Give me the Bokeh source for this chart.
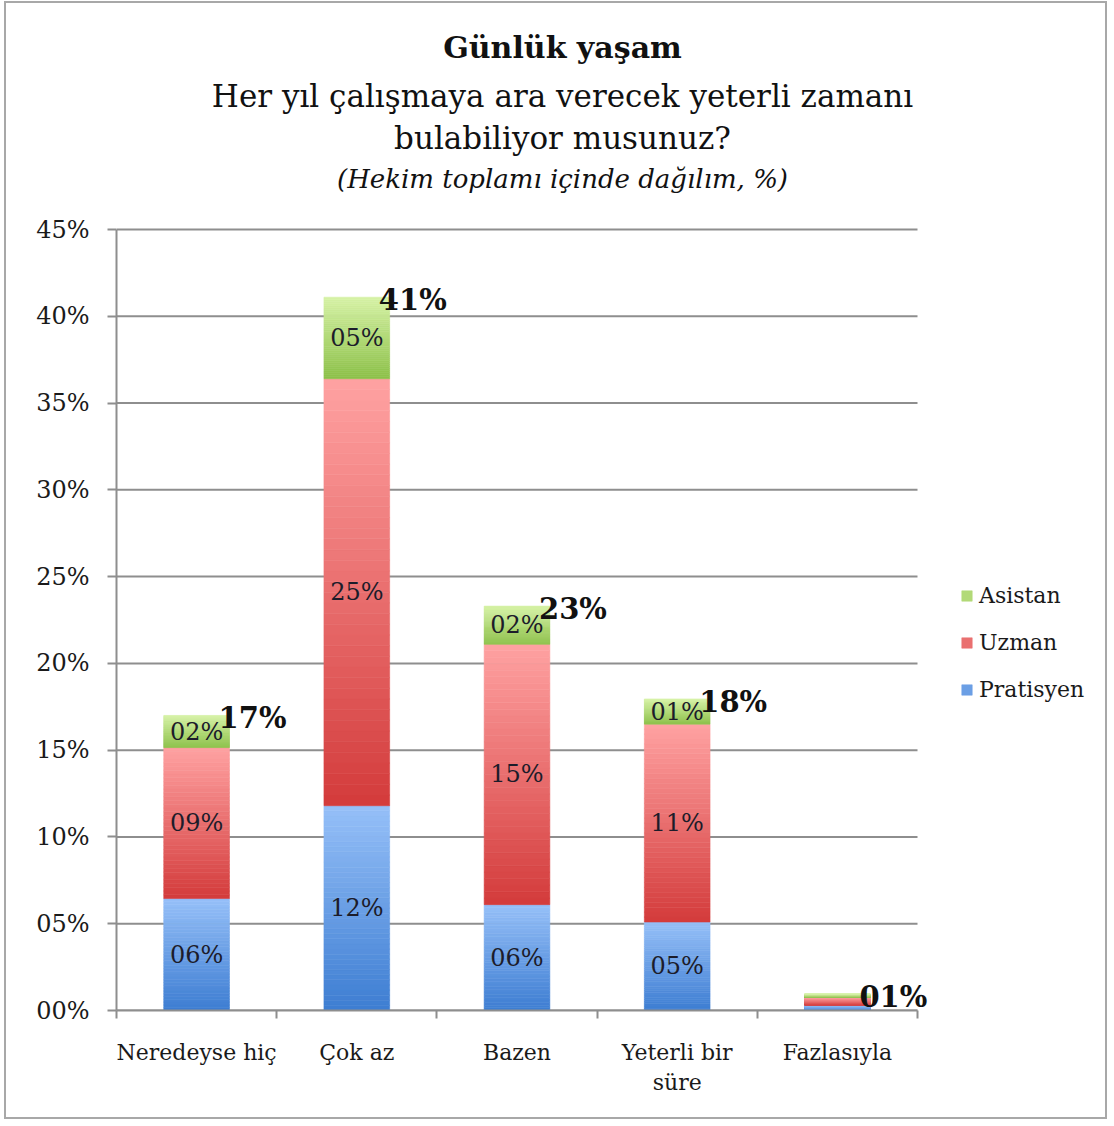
from bokeh.plotting import figure
from bokeh.models import (ColumnDataSource, Range1d, FixedTicker, Legend, LegendItem)
from bokeh.core.properties import value
from bokeh.embed import file_html
from bokeh.resources import INLINE

# ---------------- data ----------------
categories = ["Neredeyse hiç", "Çok az", "Bazen", "Yeterli bir\nsüre", "Fazlasıyla"]
series_names = ["Pratisyen", "Uzman", "Asistan"]
pratisyen = [6.45, 11.8, 6.1, 5.1, 0.3]
uzman = [8.7, 24.6, 15.0, 11.4, 0.45]
asistan = [1.85, 4.7, 2.2, 1.45, 0.2]
y_ticks = [0, 5, 10, 15, 20, 25, 30, 35, 40, 45]
y_tick_labels = ["00%", "05%", "10%", "15%", "20%", "25%", "30%", "35%", "40%", "45%"]
title_lines = ["Günlük yaşam",
               "Her yıl çalışmaya ara verecek yeterli zamanı",
               "bulabiliyor musunuz?",
               "(Hekim toplamı içinde dağılım, %)"]

# ---------------- layout / style ----------------
OFFX, OFFY = 6, 3                 # page position of the canvas (margin + border)
W, H = 1103, 1118                 # canvas size
PAGE_LEFT, PAGE_BOTTOM = 116, 1010  # page pixels of the plot origin
PX_PER_CAT = 160.2
PX_PER_PCT = (PAGE_BOTTOM - 229) / max(y_ticks)
FONT = "DejaVu Serif"
GRID = "#8e8e8e"
TXT = "#1a1a1a"
palette = {   # bottom colour, top colour
    "Pratisyen": ("#3d7dd2", "#96c0f8"),
    "Uzman": ("#d33b3b", "#ffa2a2"),
    "Asistan": ("#8cc048", "#d6f2a6"),
}
N_SLICES = 40
BAR_W = 0.41


def px_x(px):
    return (px - PAGE_LEFT) / PX_PER_CAT


def px_y(py):
    return (PAGE_BOTTOM - py) / PX_PER_PCT


def hex2rgb(h):
    h = h.lstrip("#")
    return [int(h[i:i + 2], 16) for i in (0, 2, 4)]


def lerp(c0, c1, t):
    a, b = hex2rgb(c0), hex2rgb(c1)
    return "#%02x%02x%02x" % tuple(int(round(a[i] + (b[i] - a[i]) * t)) for i in range(3))


p = figure(width=W, height=H, output_backend="svg", toolbar_location=None,
           x_range=Range1d(0, px_x(OFFX + W)), y_range=Range1d(0, px_y(OFFY)),
           min_border_left=PAGE_LEFT - OFFX, min_border_right=0, min_border_top=0,
           min_border_bottom=OFFY + H - PAGE_BOTTOM)
p.outline_line_color = None
p.background_fill_color = "white"
p.border_fill_color = "white"
p.styles = {"border": "2px solid #a8a8a8", "margin-left": "4px", "margin-top": "1px"}
p.xgrid.visible = False
p.ygrid.visible = False

n = len(categories)
centers = [i + 0.5 for i in range(n)]

# horizontal grid lines across the category span
p.segment(x0=[0] * len(y_ticks), x1=[n] * len(y_ticks), y0=y_ticks, y1=y_ticks,
          line_color=GRID, line_width=2)

series_vals = {"Pratisyen": pratisyen, "Uzman": uzman, "Asistan": asistan}
base = [0.0] * n
renderers = {}
for name in series_names:
    vals = series_vals[name]
    c_bot, c_top = palette[name]
    xs, bots, tops, cols = [], [], [], []
    for i, v in enumerate(vals):
        for k in range(N_SLICES):
            xs.append(centers[i])
            bots.append(base[i] + v * k / N_SLICES)
            tops.append(base[i] + v * (k + 1) / N_SLICES)
            cols.append(lerp(c_bot, c_top, (k + 0.5) / N_SLICES))
    src = ColumnDataSource(dict(x=xs, bottom=bots, top=tops, color=cols))
    r = p.vbar(x="x", bottom="bottom", top="top", width=BAR_W, source=src,
               fill_color="color", line_color="color", line_width=0.6)
    renderers[name] = r
    lx, ly, lt = [], [], []
    for i, v in enumerate(vals):
        if v >= 1:
            lx.append(centers[i])
            ly.append(base[i] + v / 2)
            lt.append("%02d%%" % round(v))
    p.text(x=lx, y=ly, text=lt, text_align="center", text_baseline="middle",
           text_font=value(FONT), text_font_size="24px", text_color="#1c1c2a")
    base = [base[i] + vals[i] for i in range(n)]

# totals
totals = base
p.text(x=centers, y=totals, text=["%02d%%" % round(t) for t in totals],
       text_align="left", text_baseline="middle", x_offset=22, y_offset=3,
       text_font=value(FONT), text_font_size="29px", text_font_style="bold",
       text_color="#111111")

# axes
yax = p.yaxis[0]
yax.bounds = (0, max(y_ticks))
yax.ticker = FixedTicker(ticks=y_ticks)
yax.major_label_overrides = {t: l for t, l in zip(y_ticks, y_tick_labels)}
yax.axis_line_color = GRID
yax.axis_line_width = 2
yax.major_tick_line_color = GRID
yax.major_tick_line_width = 2
yax.major_tick_out = 9
yax.major_tick_in = 0
yax.minor_tick_line_color = None
yax.major_label_standoff = 18
yax.major_label_text_font = FONT
yax.major_label_text_font_size = "24px"
yax.major_label_text_color = TXT

xax = p.xaxis[0]
xax.bounds = (0, n)
xax.ticker = FixedTicker(ticks=centers, minor_ticks=list(range(n + 1)))
xax.major_label_overrides = {c: l for c, l in zip(centers, categories)}
xax.axis_line_color = GRID
xax.axis_line_width = 2
xax.major_tick_line_color = None
xax.major_tick_out = 0
xax.major_tick_in = 0
xax.minor_tick_line_color = GRID
xax.minor_tick_line_width = 2
xax.minor_tick_out = 8
xax.minor_tick_in = 0
xax.major_label_standoff = 21
xax.major_label_text_font = FONT
xax.major_label_text_font_size = "22px"
xax.major_label_text_color = TXT

# titles
title_specs = [
    (title_lines[0], 47, "30px", "bold"),
    (title_lines[1], 95, "31px", "normal"),
    (title_lines[2], 137, "31px", "normal"),
    (title_lines[3], 178, "26px", "italic"),
]
for txt, py, fs, st in title_specs:
    p.text(x=[px_x(562)], y=[px_y(py)], text=[txt], text_align="center",
           text_baseline="middle", text_font=value(FONT), text_font_size=fs,
           text_font_style=st, text_color="#111111")

# legend
items = [LegendItem(label=nm, renderers=[renderers[nm]], index=N_SLICES // 2)
         for nm in ["Asistan", "Uzman", "Pratisyen"]]
leg = Legend(items=items, location=(960 - PAGE_LEFT, PAGE_BOTTOM - 702),
             glyph_width=13, glyph_height=13,
             label_text_font=FONT, label_text_font_size="22px", label_text_color=TXT,
             label_standoff=6, spacing=22, padding=0, margin=0,
             border_line_color=None, background_fill_alpha=0)
p.add_layout(leg, "center")

open("out.html", "w").write(file_html(p, INLINE))
